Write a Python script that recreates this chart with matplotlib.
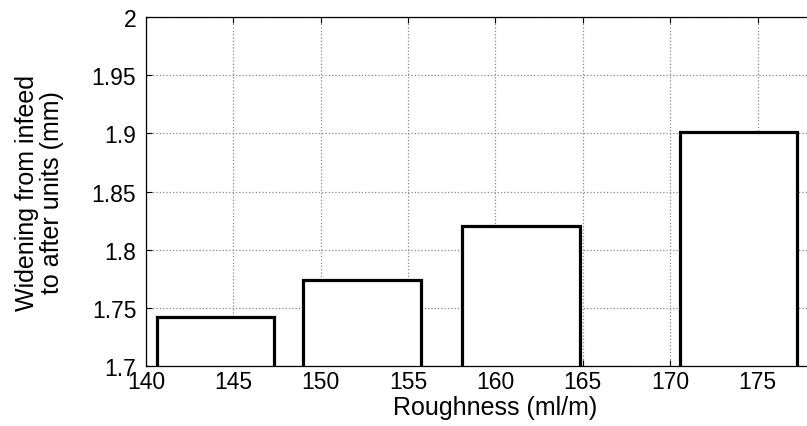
import matplotlib
matplotlib.use('Agg')
import matplotlib.pyplot as plt

# bar centres and heights
roughness = [143.98, 152.36, 161.47, 173.90]
widening = [1.742, 1.774, 1.820, 1.901]
bar_width = 6.72

xticks = [140, 145, 150, 155, 160, 165, 170, 175]
yticks = [1.7, 1.75, 1.8, 1.85, 1.9, 1.95, 2.0]
ytick_labels = ['1.7', '1.75', '1.8', '1.85', '1.9', '1.95', '2']

plt.rcParams['font.family'] = ['Liberation Sans', 'DejaVu Sans']

fig = plt.figure(figsize=(8.07, 4.27), dpi=100)
ax = fig.add_axes([0.181, 0.1405, 0.866, 0.8173])

ax.bar(roughness, widening, width=bar_width, color='white',
       edgecolor='black', linewidth=2.3)

ax.set_xlim(140, 180)
ax.set_ylim(1.7, 2.0)
ax.set_xticks(xticks)
ax.set_yticks(yticks)
ax.set_yticklabels(ytick_labels)

ax.set_axisbelow(True)
ax.grid(True, linestyle=':', color='#888888', linewidth=0.9)
ax.tick_params(direction='in', top=True, right=True, labelsize=16.5, length=4)
ax.tick_params(axis='x', pad=3)
ax.tick_params(axis='y', pad=7)
for s in ax.spines.values():
    s.set_linewidth(0.9)

ax.set_xlabel('Roughness (ml/m)', fontsize=18, labelpad=1)
ax.set_ylabel('Widening from infeed\nto after units (mm)', fontsize=18,
              labelpad=20, linespacing=1.05)

fig.savefig('out.png', dpi=100)
